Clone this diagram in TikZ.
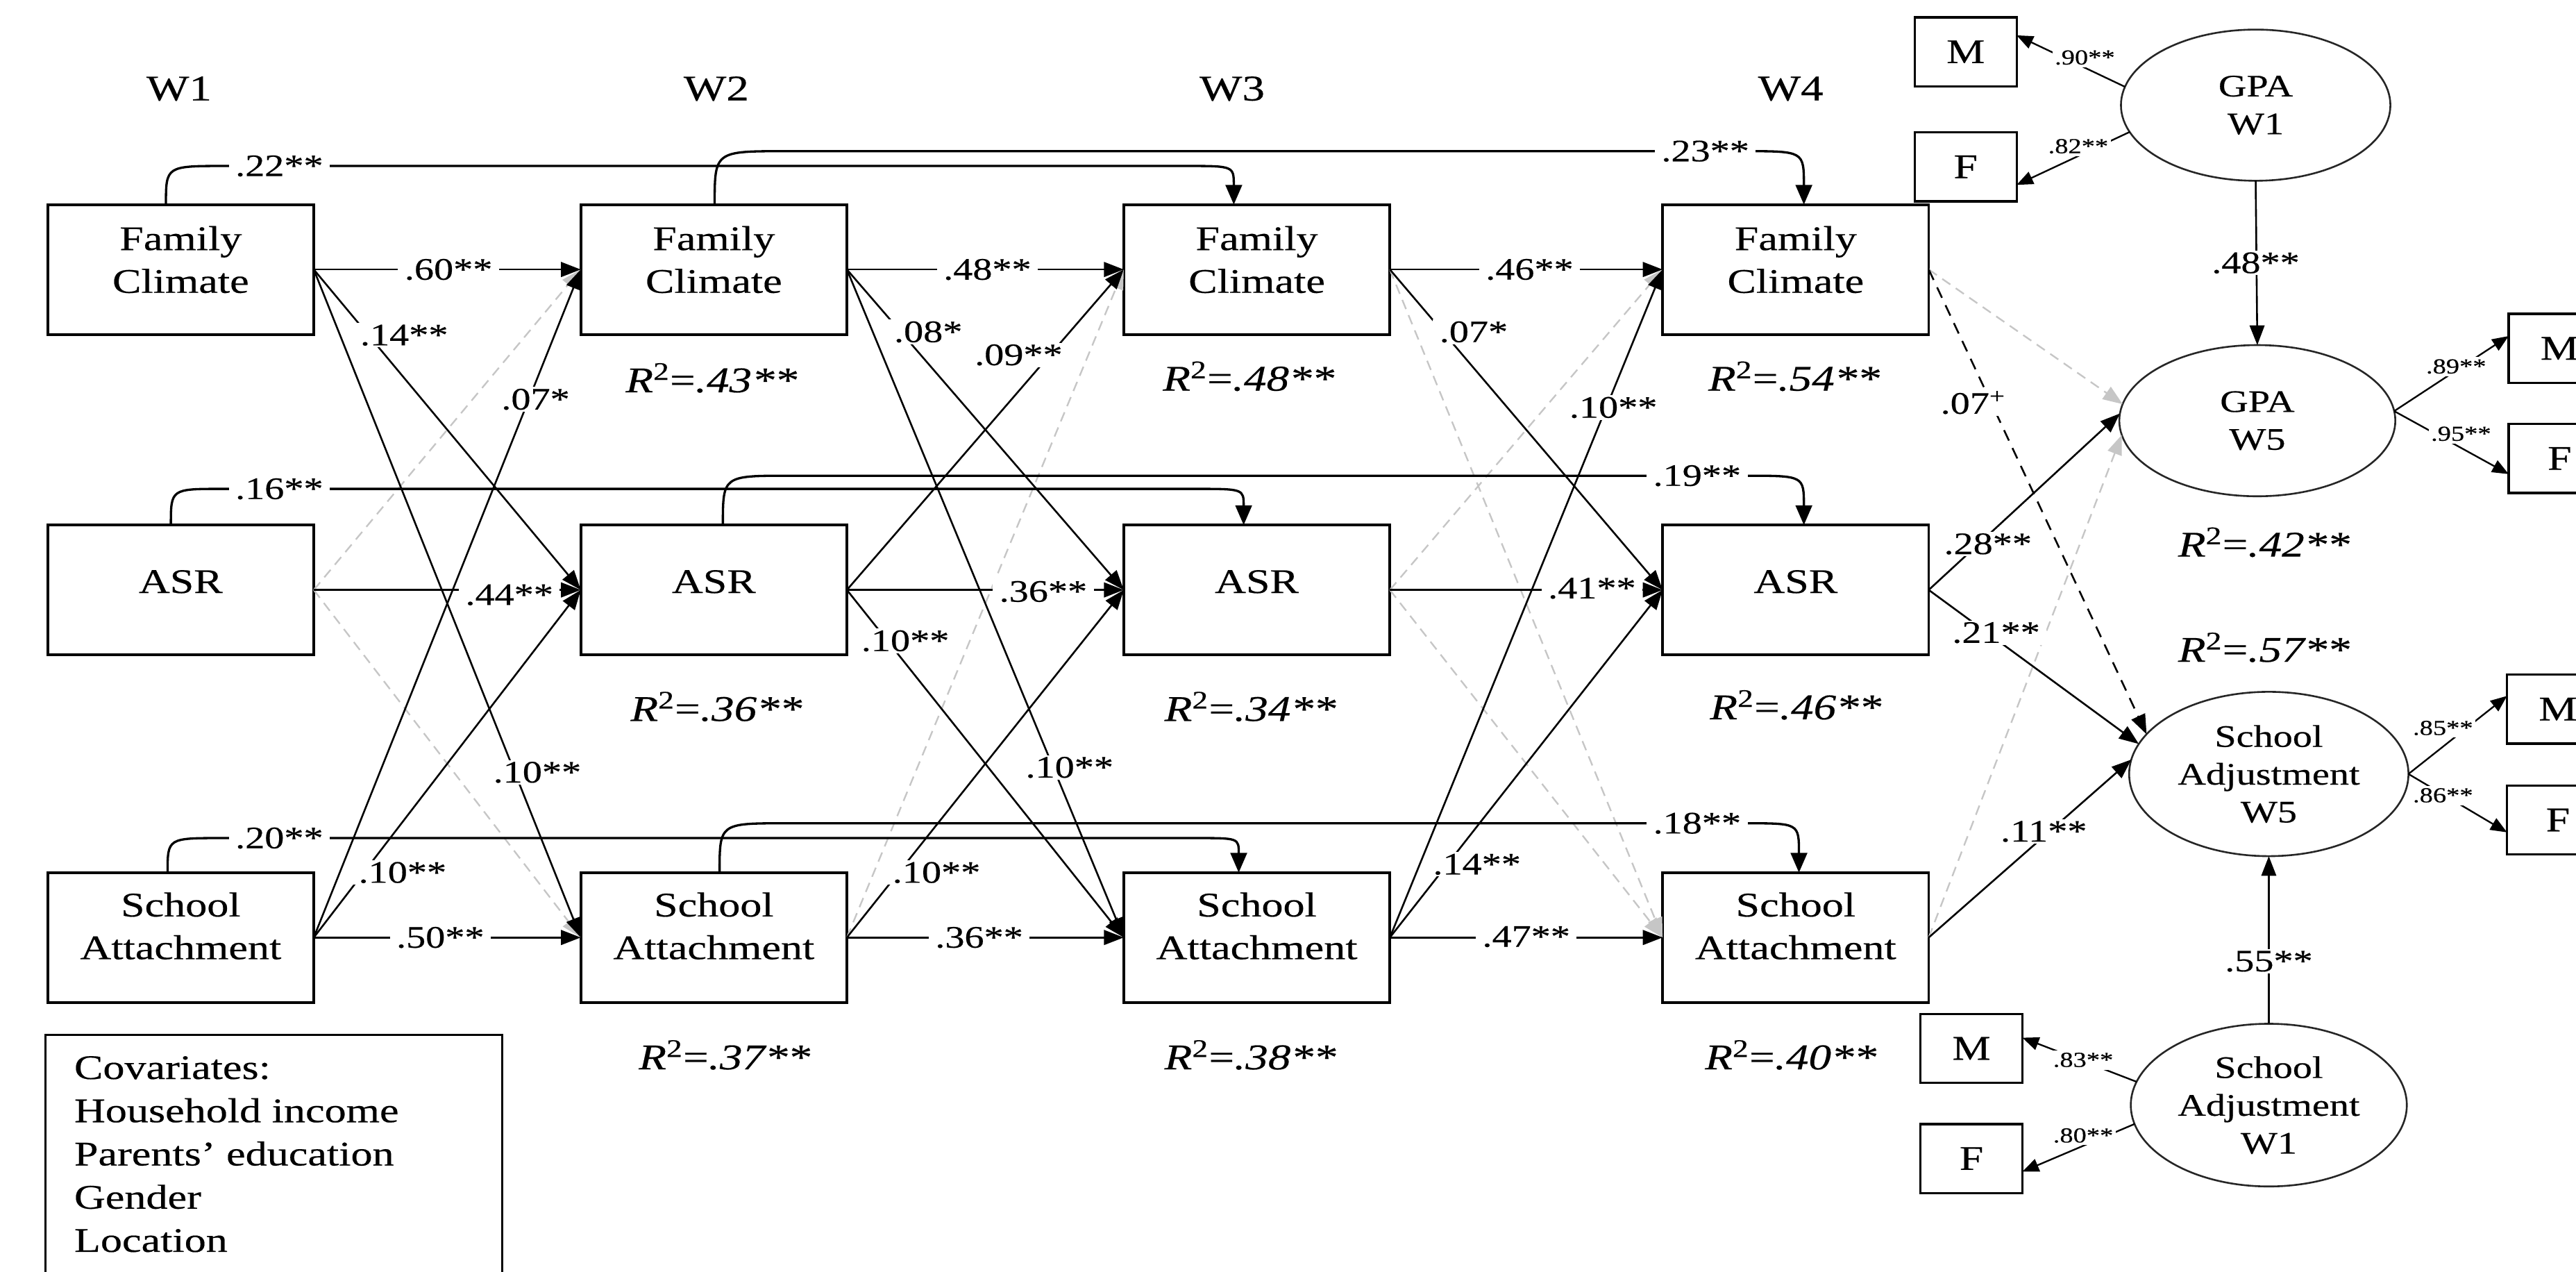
\documentclass[tikz,border=0pt]{standalone}
\usepackage{fontspec}
\setmainfont{Liberation Serif}[FakeStretch=1.25,FakeBold=0.4]
\usetikzlibrary{arrows.meta,shapes.geometric}
\begin{document}
\begin{tikzpicture}[x=1pt,y=-1pt,
  box/.style={draw, line width=1.6pt, minimum width=162pt, minimum height=79pt, inner sep=0pt, outer sep=0pt},
  boxtext/.style={align=center, font=\fontsize{21}{26}\selectfont, inner sep=0pt},
  mfbox/.style={draw, line width=1.4pt, minimum width=62pt, minimum height=42pt, inner sep=0pt, outer sep=0pt, font=\fontsize{21}{25}\selectfont},
  latent/.style={ellipse, draw=black!85, line width=1.1pt, inner sep=0pt, outer sep=0pt, align=center, font=\fontsize{19}{23}\selectfont},
  coef/.style={fill=white, inner xsep=4pt, inner ysep=1pt, font=\fontsize{19}{22}\selectfont},
  smallcoef/.style={fill=white, inner xsep=1.5pt, inner ysep=1.5pt, font=\fontsize{13}{15}\selectfont},
  rsq/.style={inner sep=0pt, font=\fontsize{22}{26}\selectfont},
  wlab/.style={inner sep=0pt, font=\fontsize{22}{26}\selectfont},
  pth/.style={line width=1.1pt, -{Triangle[length=12pt,width=9pt]}},
  lag/.style={line width=1.4pt, -{Triangle[length=12pt,width=10pt]}},
  gdash/.style={draw=gray!45, line width=1pt, dash pattern=on 6pt off 4pt, -{Triangle[length=12pt,width=9pt]}},
  bdash/.style={line width=1.1pt, dash pattern=on 7pt off 5pt, -{Triangle[length=12pt,width=9pt]}},
  load/.style={line width=1pt, -{Triangle[length=10pt,width=8pt]}},
]
\useasboundingbox (0,0) rectangle (1568,774);
\clip (0,0) rectangle (1568,774);

% wave labels
\node[wlab] (w1) at (109,54) {W1};
\node[wlab] (w2) at (436,54) {W2};
\node[wlab] (w3) at (750,54) {W3};
\node[wlab] (w4) at (1090,54) {W4};

% boxes
\node[box] (fc1) at (110,164) {};
\node[box] (fc2) at (434.5,164) {};
\node[box] (fc3) at (765,164) {};
\node[box] (fc4) at (1093,164) {};
\node[box] (asr1) at (110,359) {};
\node[box] (asr2) at (434.5,359) {};
\node[box] (asr3) at (765,359) {};
\node[box] (asr4) at (1093,359) {};
\node[box] (sa1) at (110,570.5) {};
\node[box] (sa2) at (434.5,570.5) {};
\node[box] (sa3) at (765,570.5) {};
\node[box] (sa4) at (1093,570.5) {};

\node[boxtext] (fc1t) at ([yshift=6pt]fc1.center) {Family\\Climate};
\node[boxtext] (fc2t) at ([yshift=6pt]fc2.center) {Family\\Climate};
\node[boxtext] (fc3t) at ([yshift=6pt]fc3.center) {Family\\Climate};
\node[boxtext] (fc4t) at ([yshift=6pt]fc4.center) {Family\\Climate};
\node[boxtext] (asr1t) at ([yshift=5pt]asr1.center) {ASR};
\node[boxtext] (asr2t) at ([yshift=5pt]asr2.center) {ASR};
\node[boxtext] (asr3t) at ([yshift=5pt]asr3.center) {ASR};
\node[boxtext] (asr4t) at ([yshift=5pt]asr4.center) {ASR};
\node[boxtext] (sa1t) at ([yshift=7pt]sa1.center) {School\\Attachment};
\node[boxtext] (sa2t) at ([yshift=7pt]sa2.center) {School\\Attachment};
\node[boxtext] (sa3t) at ([yshift=7pt]sa3.center) {School\\Attachment};
\node[boxtext] (sa4t) at ([yshift=7pt]sa4.center) {School\\Attachment};

% latent variables
\node[latent, minimum width=164pt, minimum height=92pt] (gpa1) at (1373,64) {GPA\\W1};
\node[latent, minimum width=168pt, minimum height=92pt] (gpa5) at (1374,256) {GPA\\W5};
\node[latent, minimum width=170pt, minimum height=100pt] (sa5) at (1381,471) {School\\Adjustment\\W5};
\node[latent, minimum width=168pt, minimum height=99pt] (saw1) at (1381,672.5) {School\\Adjustment\\W1};

% indicators
\node[mfbox] (m1) at (1196.5,31.5) {M};
\node[mfbox] (f1) at (1196.5,101.5) {F};
\node[mfbox] (m2) at (1558,212) {M};
\node[mfbox] (f2) at (1558,279) {F};
\node[mfbox] (m3) at (1557,431.5) {M};
\node[mfbox] (f3) at (1557,499) {F};
\node[mfbox] (m4) at (1200,638) {M};
\node[mfbox] (f4) at (1200,705) {F};

% covariates
\node[draw, line width=1.3pt, minimum width=278pt, minimum height=170pt, inner sep=0pt, anchor=north west] (cov) at (27,629) {};
\node[inner sep=0pt, anchor=north west, align=left, font=\fontsize{21}{26.3}\selectfont] (covt) at (45,642.5) {Covariates:\\Household income\\Parents' education\\Gender\\Location};

% grey dashed paths
\draw[gdash] (asr1.east) -- (fc2.west);
\draw[gdash] (asr1.east) -- (sa2.west);
\draw[gdash] (sa2.east) -- (fc3.west);
\draw[gdash] (fc3.east) -- (sa4.west);
\draw[gdash] (asr3.east) -- (fc4.west);
\draw[gdash] (asr3.east) -- (sa4.west);
\draw[gdash] (fc4.east) -- (gpa5.173);
\draw[gdash] (sa4.east) -- (gpa5.186);

% W1 -> W2
\draw[pth] (fc1.east) -- (fc2.west);
\draw[pth] (fc1.east) -- (asr2.west);
\draw[pth] (fc1.east) -- (sa2.west);
\draw[pth] (asr1.east) -- (asr2.west);
\draw[pth] (sa1.east) -- (fc2.west);
\draw[pth] (sa1.east) -- (asr2.west);
\draw[pth] (sa1.east) -- (sa2.west);
% W2 -> W3
\draw[pth] (fc2.east) -- (fc3.west);
\draw[pth] (fc2.east) -- (asr3.west);
\draw[pth] (fc2.east) -- (sa3.west);
\draw[pth] (asr2.east) -- (fc3.west);
\draw[pth] (asr2.east) -- (asr3.west);
\draw[pth] (asr2.east) -- (sa3.west);
\draw[pth] (sa2.east) -- (asr3.west);
\draw[pth] (sa2.east) -- (sa3.west);
% W3 -> W4
\draw[pth] (fc3.east) -- (fc4.west);
\draw[pth] (fc3.east) -- (asr4.west);
\draw[pth] (asr3.east) -- (asr4.west);
\draw[pth] (sa3.east) -- (fc4.west);
\draw[pth] (sa3.east) -- (asr4.west);
\draw[pth] (sa3.east) -- (sa4.west);
% W4 -> W5
\draw[bdash] (fc4.east) -- (sa5.162);
\draw[pth] (asr4.east) -- (gpa5.177);
\draw[pth] (asr4.east) -- (sa5.167);
\draw[pth] (sa4.east) -- (sa5.174);
\draw[pth] (gpa1.south) -- (gpa5.north);
\draw[pth] (saw1.north) -- (sa5.south);

% loadings
\draw[load] (gpa1.172) -- ([yshift=10pt]m1.east);
\draw[load] (gpa1.192) -- ([yshift=-11pt]f1.east);
\draw[load] (gpa5.4) -- ([yshift=7.5pt]m2.west);
\draw[load] (gpa5.4) -- ([yshift=-9.5pt]f2.west);
\draw[load] (sa5.east) -- ([yshift=8pt]m3.west);
\draw[load] (sa5.east) -- ([yshift=-7.5pt]f3.west);
\draw[load] (saw1.170) -- ([yshift=6.5pt]m4.east);
\draw[load] (saw1.188) -- ([yshift=-8pt]f4.east);

% lag-2 paths
\draw[lag] ([xshift=-9pt]fc1.north) .. controls (101,101) .. (137,101) -- (722,101) .. controls (751,101) .. ([xshift=-14pt]fc3.north);
\draw[lag] ([xshift=0.5pt]fc2.north) .. controls (435,92) .. (478,92) -- (1062,92) .. controls (1098,92) .. ([xshift=5pt]fc4.north);
\draw[lag] ([xshift=-6pt]asr1.north) .. controls (104,297.5) .. (135,297.5) -- (727,297.5) .. controls (757,297.5) .. ([xshift=-8pt]asr3.north);
\draw[lag] ([xshift=5.5pt]asr2.north) .. controls (440,289.5) .. (480,289.5) -- (1063,289.5) .. controls (1098,289.5) .. ([xshift=5pt]asr4.north);
\draw[lag] ([xshift=-8pt]sa1.north) .. controls (102,510) .. (135,510) -- (728,510) .. controls (754,510) .. ([xshift=-11pt]sa3.north);
\draw[lag] ([xshift=3.5pt]sa2.north) .. controls (438,501) .. (478,501) -- (1063,501) .. controls (1095,501) .. ([xshift=2pt]sa4.north);

% coefficient labels
\node[coef] (c60) at (273,164) {.60**};
\node[coef] (c48) at (601,164) {.48**};
\node[coef] (c46) at (931,164) {.46**};
\node[coef] (c44) at (310,362) {.44**};
\node[coef] (c36a) at (635,360) {.36**};
\node[coef] (c41) at (969,358) {.41**};
\node[coef] (c50) at (268,570.5) {.50**};
\node[coef] (c36b) at (596,570.5) {.36**};
\node[coef] (c47) at (929,570) {.47**};

\node[coef] (c14a) at (246,204) {.14**};
\node[coef] (c10a) at (327,470) {.10**};
\node[coef] (c07a) at (326,243) {.07*};
\node[coef] (c10b) at (245,531) {.10**};
\node[coef] (c08) at (565,202) {.08*};
\node[coef] (c10c) at (651,467) {.10**};
\node[coef] (c09) at (620,216) {.09**};
\node[coef] (c10d) at (551,390) {.10**};
\node[coef] (c10e) at (570,531) {.10**};
\node[coef] (c07b) at (897,202) {.07*};
\node[coef] (c10f) at (982,248) {.10**};
\node[coef] (c14b) at (899,526) {.14**};

\node[coef] (c22) at (170,101) {.22**};
\node[coef] (c23) at (1038,92) {.23**};
\node[coef] (c16) at (170,297.5) {.16**};
\node[coef] (c19) at (1033,289.5) {.19**};
\node[coef] (c20) at (170,510) {.20**};
\node[coef] (c18) at (1033,501) {.18**};

\node[coef] (c07c) at (1201,245) {.07\textsuperscript{+}};
\node[coef] (c28) at (1210,331) {.28**};
\node[coef] (c21) at (1215,385) {.21**};
\node[coef] (c11) at (1244,506) {.11**};
\node[coef] (c48b) at (1373,160) {.48**};
\node[coef] (c55) at (1381,585) {.55**};

\node[smallcoef] (s90) at (1269,35) {.90**};
\node[smallcoef] (s82) at (1265,89) {.82**};
\node[smallcoef] (s89) at (1495,223) {.89**};
\node[smallcoef] (s95) at (1498,264) {.95**};
\node[smallcoef] (s85) at (1487,443) {.85**};
\node[smallcoef] (s86) at (1487,484) {.86**};
\node[smallcoef] (s83) at (1268,645) {.83**};
\node[smallcoef] (s80) at (1268,691) {.80**};

% R-squared
\node[rsq] (r43) at (433,230) {\textit{R}\textsuperscript{2}=\textit{.43**}};
\node[rsq] (r48) at (760,229) {\textit{R}\textsuperscript{2}=\textit{.48**}};
\node[rsq] (r54) at (1092,229) {\textit{R}\textsuperscript{2}=\textit{.54**}};
\node[rsq] (r36) at (436,430) {\textit{R}\textsuperscript{2}=\textit{.36**}};
\node[rsq] (r34) at (761,430) {\textit{R}\textsuperscript{2}=\textit{.34**}};
\node[rsq] (r46) at (1093,429) {\textit{R}\textsuperscript{2}=\textit{.46**}};
\node[rsq] (r37) at (441,642) {\textit{R}\textsuperscript{2}=\textit{.37**}};
\node[rsq] (r38) at (761,642) {\textit{R}\textsuperscript{2}=\textit{.38**}};
\node[rsq] (r40) at (1090,642) {\textit{R}\textsuperscript{2}=\textit{.40**}};
\node[rsq] (r42) at (1378,330) {\textit{R}\textsuperscript{2}=\textit{.42**}};
\node[rsq] (r57) at (1378,394) {\textit{R}\textsuperscript{2}=\textit{.57**}};
\end{tikzpicture}
\end{document}
